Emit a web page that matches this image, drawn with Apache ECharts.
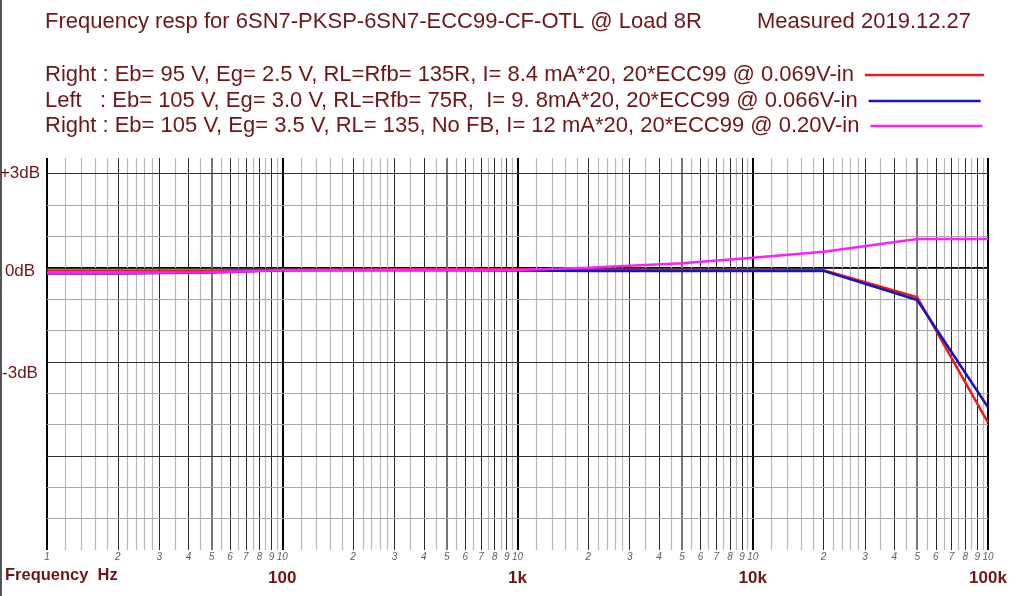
<!DOCTYPE html>
<html>
<head>
<meta charset="utf-8">
<script src="https://cdn.jsdelivr.net/npm/echarts@6/dist/echarts.min.js"></script>
<style>
html,body{margin:0;padding:0;background:#fff;}
#chart{width:1024px;height:596px;}
</style>
</head>
<body>
<div id="chart"></div>
<script>
// ---- data ----
const frequencies = [10, 20, 50, 100, 200, 500, 1000, 2000, 5000, 10000, 20000, 50000, 100000];
const rightFb   = [-0.09, -0.09, -0.09, -0.07, -0.06, -0.04, -0.05, -0.07, -0.07, -0.07, -0.08, -0.94, -4.94];
const leftFb    = [-0.18, -0.18, -0.15, -0.08, -0.08, -0.08, -0.09, -0.10, -0.10, -0.10, -0.10, -1.03, -4.45];
const rightNoFb = [-0.17, -0.17, -0.14, -0.08, -0.07, -0.06, -0.07, 0.00, 0.14, 0.32, 0.51, 0.92, 0.92];

const seriesNames = [
  'Right : Eb= 95 V, Eg= 2.5 V, RL=Rfb= 135R, I= 8.4 mA*20, 20*ECC99 @ 0.069V-in',
  'Left   : Eb= 105 V, Eg= 3.0 V, RL=Rfb= 75R,  I= 9. 8mA*20, 20*ECC99 @ 0.066V-in',
  'Right : Eb= 105 V, Eg= 3.5 V, RL= 135, No FB, I= 12 mA*20, 20*ECC99 @ 0.20V-in'
];
const seriesColors = ['#ec1c1c', '#1414c4', '#ff1eff'];

// axis tick labels
const decadeFreqs = [10, 100, 1000, 10000, 100000];
const decadeLabels = ['', '100', '1k', '10k', '100k'];
const yLabelValues = [3, 0, -3];
const yLabelTexts = ['+3dB', '0dB', '-3dB'];
const yLabelStyles = ['up', 'mid', 'down'];
const minorLabelMults = [2, 3, 4, 5, 6, 7, 8, 9, 10];
const minorLabelTexts = ['2', '3', '4', '5', '6', '7', '8', '9', '10'];
// grid line multipliers within each decade
const gridDecades = [10, 100, 1000, 10000];
const lightMults = [1.2, 1.4, 1.6, 1.8, 2.2, 2.4, 2.6, 2.8, 3.5, 4.5, 5.5, 6.5, 7.5, 8.5, 9.5];
const darkMults = [2, 3, 4, 6, 7, 8, 9];
const midMults = [5];
const darkDb = [-6, -3, 0, 3];
const lightDb = [-8, -7, -5, -4, -2, -1, 1, 2];

const TXT = '#6e1616';
const FONT = '"Liberation Sans", Arial, sans-serif';

// ---- build ----
const vLines = [];
gridDecades.forEach(d => {
  lightMults.forEach(m => vLines.push({xAxis: d * m, lineStyle: {color: '#b8b8b8', width: 1.2, type: 'solid'}}));
  darkMults.forEach(m => vLines.push({xAxis: d * m, lineStyle: {color: '#2a2a2a', width: 1, type: 'solid'}}));
  midMults.forEach(m => vLines.push({xAxis: d * m, lineStyle: {color: '#777', width: 2, type: 'solid'}}));
});
decadeFreqs.forEach(f => vLines.push({xAxis: f, lineStyle: {color: '#000', width: 2, type: 'solid'}}));
const hLines = [];
lightDb.forEach(v => hLines.push({yAxis: v, lineStyle: {color: '#a8a8a8', width: 1, type: 'solid'}}));
darkDb.forEach(v => hLines.push({yAxis: v, lineStyle: {color: '#333', width: 1.2, type: 'solid'}}));

const minorLabelData = [{value: [10, -9], label: {formatter: '1'}}];
gridDecades.forEach(d => {
  minorLabelMults.forEach((m, i) => minorLabelData.push({value: [d * m, -9], label: {formatter: minorLabelTexts[i]}}));
});

const lineSeries = seriesNames.map((name, i) => ({
  name: name,
  type: 'line',
  data: frequencies.map((f, j) => [f, [rightFb, leftFb, rightNoFb][i][j]]),
  showSymbol: false,
  symbol: 'none',
  lineStyle: {color: seriesColors[i], width: 2.5},
  itemStyle: {color: seriesColors[i]},
  z: 3 + i,
  silent: true,
  animation: false
}));

const legendTops = [64, 90, 115];
const legendWidths = [119, 112, 112];
const legends = seriesNames.map((name, i) => ({
  orient: 'vertical',
  left: 45, top: legendTops[i],
  padding: 0,
  align: 'right',
  icon: 'rect',
  itemWidth: legendWidths[i], itemHeight: 2.5,
  selectedMode: false,
  data: [name],
  textStyle: {color: TXT, fontSize: 22, fontFamily: FONT, lineHeight: 22, padding: [0, 6, 0, 0]}
}));

const option = {
  animation: false,
  backgroundColor: '#fff',
  textStyle: {fontFamily: FONT},
  title: [
    {text: 'Frequency resp for 6SN7-PKSP-6SN7-ECC99-CF-OTL @ Load 8R', left: 45, top: 11, padding: 0,
     textStyle: {color: TXT, fontSize: 22, fontWeight: 'normal', fontFamily: FONT, lineHeight: 22}},
    {text: 'Measured 2019.12.27', left: 757, top: 11, padding: 0,
     textStyle: {color: TXT, fontSize: 22, fontWeight: 'normal', fontFamily: FONT, lineHeight: 22}}
  ],
  legend: legends,
  grid: {left: 47, right: 36, top: 158, bottom: 46, containLabel: false, outerBoundsMode: 'none'},
  xAxis: {
    type: 'log', logBase: 10, min: 10, max: 100000,
    axisLine: {show: true, lineStyle: {color: '#000', width: 2}},
    axisTick: {show: false},
    splitLine: {show: false},
    axisLabel: {
      margin: 20, color: TXT, fontSize: 17, fontWeight: 'bold', fontFamily: FONT,
      formatter: v => { const i = decadeFreqs.indexOf(Math.round(v)); return i >= 0 ? decadeLabels[i] : ''; }
    }
  },
  yAxis: {
    type: 'value', min: -9, max: 3.5, interval: 1,
    axisLine: {show: false},
    axisTick: {show: false},
    splitLine: {show: false},
    axisLabel: {
      margin: 27, align: 'center', color: TXT, fontSize: 17, fontFamily: FONT,
      formatter: v => { const i = yLabelValues.indexOf(v); return i >= 0 ? '{' + yLabelStyles[i] + '|' + yLabelTexts[i] + '}' : ''; },
      rich: {
        up: {color: TXT, fontSize: 17, fontFamily: FONT, padding: [0, 0, 0, 0]},
        mid: {color: TXT, fontSize: 17, fontFamily: FONT, padding: [7, 0, 0, 0]},
        down: {color: TXT, fontSize: 17, fontFamily: FONT, padding: [22, 0, 0, 0]}
      }
    }
  },
  graphic: [
    {type: 'text', left: 5, top: 567, style: {text: 'Frequency  Hz', fill: TXT, font: 'bold 16.5px ' + FONT}},
    {type: 'rect', left: 0, top: 0, shape: {width: 2, height: 596}, style: {fill: '#555'}}
  ],
  series: [
    {
      type: 'line', name: 'grid', data: [], silent: true, z: 1,
      markLine: {silent: true, symbol: ['none', 'none'], z: 1, animation: false,
        label: {show: false}, data: vLines.concat(hLines)}
    },
    {
      type: 'scatter', name: 'ticks', silent: true, symbolSize: 0, z: 2,
      data: minorLabelData,
      label: {show: true, position: 'bottom', distance: 2, fontSize: 10, fontStyle: 'italic', color: '#333', fontFamily: FONT}
    }
  ].concat(lineSeries)
};

const chart = echarts.init(document.getElementById('chart'), null, {renderer: 'canvas'});
chart.setOption(option);
</script>
</body>
</html>
